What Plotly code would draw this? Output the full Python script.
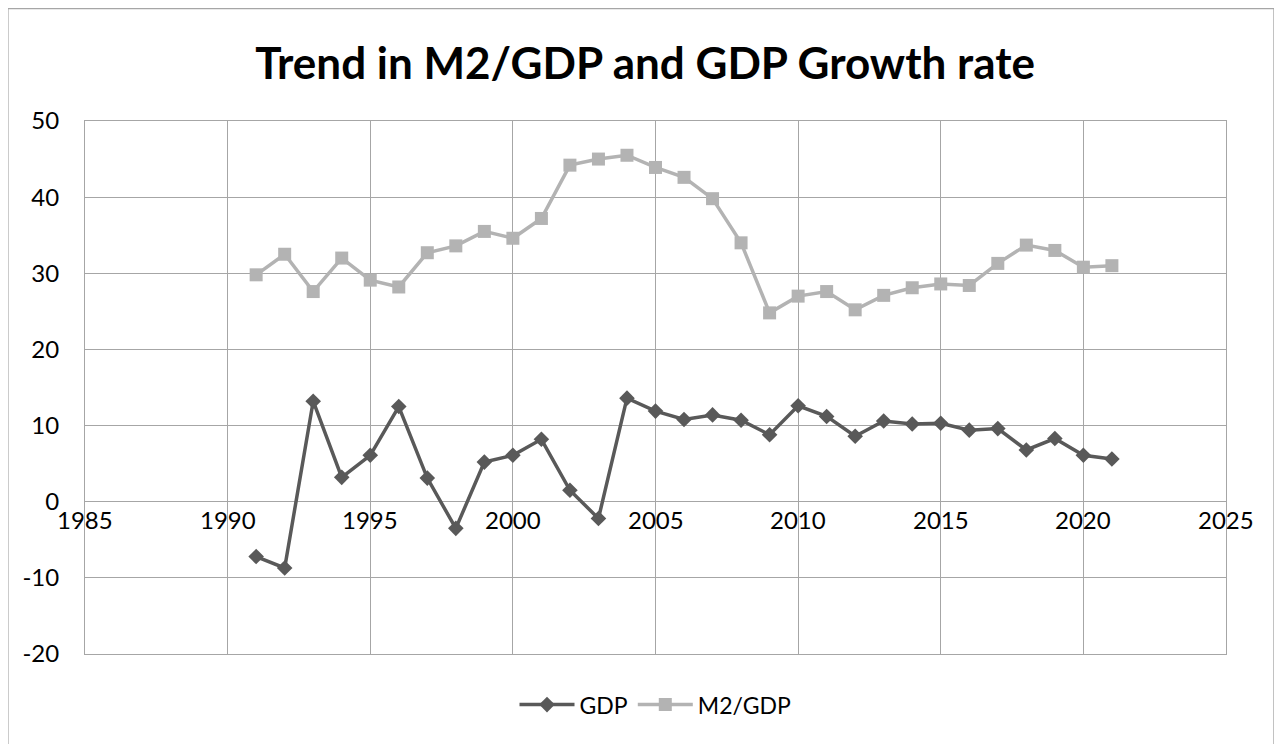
import plotly.graph_objects as go

years = list(range(1991, 2022))
gdp = [-7.2, -8.7, 13.2, 3.2, 6.1, 12.5, 3.1, -3.5, 5.2, 6.1, 8.2, 1.5, -2.2, 13.6,
       11.9, 10.8, 11.4, 10.7, 8.8, 12.6, 11.2, 8.6, 10.6, 10.2, 10.3, 9.4, 9.6, 6.8, 8.3, 6.1, 5.6]
m2_gdp = [29.8, 32.5, 27.6, 32.0, 29.1, 28.2, 32.7, 33.6, 35.5, 34.6, 37.2, 44.2, 45.0, 45.5,
          43.9, 42.6, 39.8, 34.0, 24.8, 27.0, 27.6, 25.2, 27.1, 28.1, 28.6, 28.4, 31.3, 33.7, 33.0, 30.8, 31.0]
x_ticks = [1985, 1990, 1995, 2000, 2005, 2010, 2015, 2020, 2025]
y_ticks = [-20, -10, 0, 10, 20, 30, 40, 50]
y_tick_text = ["-20", "-10", "0", "10", "20", "30", "40", "50"]
title = "Trend in M2/GDP and GDP Growth rate"

FONT = "Lato, 'Open Sans', sans-serif"
GRID = "#a6a6a6"

fig = go.Figure()
fig.add_trace(go.Scatter(x=years, y=gdp, name="GDP", mode="lines+markers",
                         line=dict(color="#595959", width=3.5),
                         marker=dict(symbol="diamond", size=12, color="#595959")))
fig.add_trace(go.Scatter(x=years, y=m2_gdp, name="M2/GDP", mode="lines+markers",
                         line=dict(color="#b3b3b3", width=3.5),
                         marker=dict(symbol="square", size=13, color="#b3b3b3")))

for t in x_ticks:
    fig.add_annotation(x=t, y=0, xref="x", yref="y", text=str(t), showarrow=False,
                       yanchor="top", yshift=-1, font=dict(size=24, color="#000000", family=FONT))

# outer chart border (bottom edge falls outside the visible window)
fig.add_shape(type="rect", xref="paper", yref="paper",
              x0=-0.0675, x1=1.042, y0=-0.25, y1=1.211,
              line=dict(color="#a6a6a6", width=1.2), fillcolor="rgba(0,0,0,0)", layer="below")

fig.update_layout(
    width=1274, height=736,
    margin=dict(l=77, r=56, t=113, b=90),
    paper_bgcolor="white", plot_bgcolor="white",
    title=dict(text=title, x=0.5, xanchor="center", y=0.925, yanchor="middle",
               font=dict(size=44, color="#000000", family=FONT, weight="bold")),
    xaxis=dict(range=[1985, 2025], tickvals=x_ticks, showticklabels=False,
               showgrid=True, gridcolor=GRID, gridwidth=1, zeroline=False,
               showline=True, linecolor=GRID, mirror=True, ticks=""),
    yaxis=dict(range=[-20, 50], tickvals=y_ticks, ticktext=y_tick_text, showgrid=True,
               gridcolor=GRID, gridwidth=1, zeroline=False, showline=True, linecolor=GRID,
               mirror=True, ticks="", ticklabelstandoff=20,
               tickfont=dict(size=24, color="#000000", family=FONT)),
    legend=dict(orientation="h", x=0.5, xanchor="center", y=-0.095, yanchor="middle",
                itemwidth=55,
                font=dict(size=23, color="#000000", family=FONT)),
    showlegend=True,
)

fig.write_html("out.html")
